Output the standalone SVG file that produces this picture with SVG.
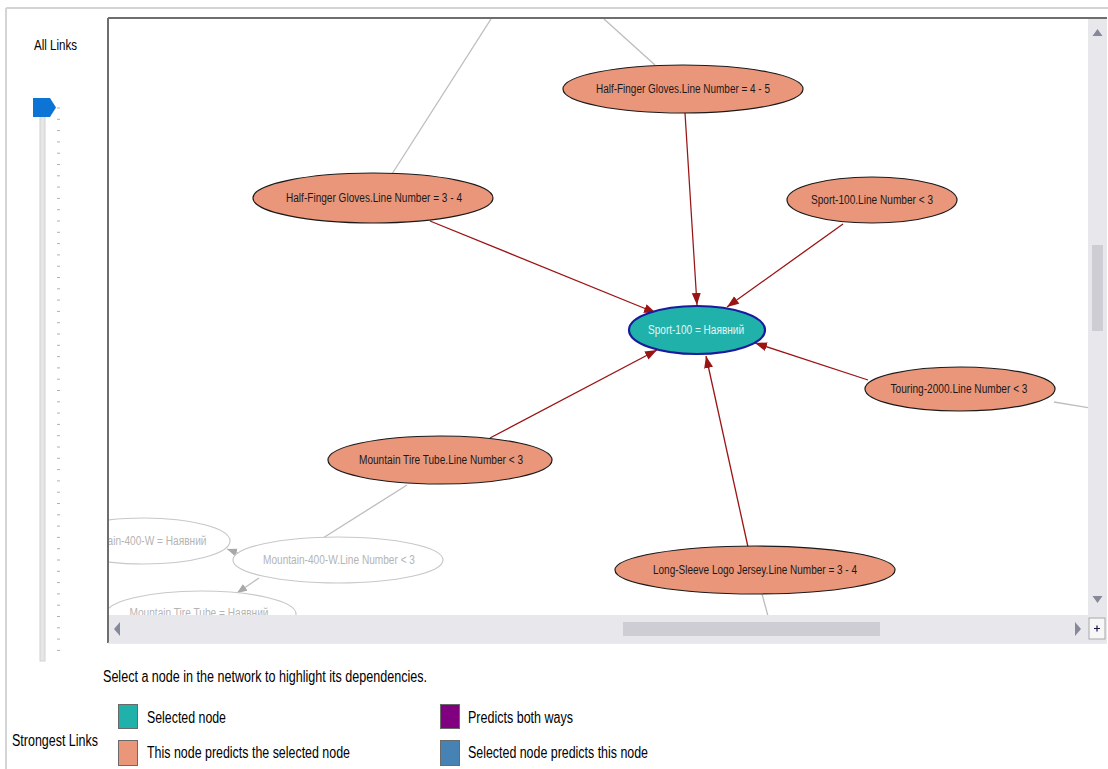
<svg xmlns="http://www.w3.org/2000/svg" width="1108" height="769" viewBox="0 0 1108 769">
<style>
.ui{font-family:"Liberation Sans",Arial,sans-serif;fill:#000}
.nt{font-family:"Liberation Sans",Arial,sans-serif;font-size:12px;fill:#1a1a1a;text-anchor:middle}
.gt{font-family:"Liberation Sans",Arial,sans-serif;font-size:12px;fill:#b4b4b4;text-anchor:middle}
.pn{fill:#e9967a;stroke:#1a1a1a;stroke-width:1.2}
.gn{fill:#fff;stroke:#c8c8c8;stroke-width:1.2}
.re{stroke:#9b1414;stroke-width:1.3;fill:none}
.ge{stroke:#bdbdbd;stroke-width:1.3;fill:none}
.tick{stroke:#b0b0b0;stroke-width:1}
.sbar{fill:#e8e8ec}
.sarrow{fill:#868999}
.leg{stroke:#6a6a6a;stroke-width:1}
</style>
<defs>
<marker id="ar" markerUnits="userSpaceOnUse" markerWidth="13" markerHeight="10" refX="12" refY="4.5" orient="auto">
<path d="M0,0 L12,4.5 L0,9 z" fill="#9b1414"/>
</marker>
<marker id="ag" markerUnits="userSpaceOnUse" markerWidth="11" markerHeight="9" refX="10" refY="4" orient="auto">
<path d="M0,0 L10,4 L0,8 z" fill="#a8a8a8"/>
</marker>
<clipPath id="view"><rect x="109" y="19" width="979" height="596"/></clipPath>
</defs>
<rect x="0" y="0" width="1108" height="769" fill="#fff"/>
<line x1="6" y1="8" x2="1108" y2="8" stroke="#d4d4d4" stroke-width="2"/>
<line x1="6" y1="8" x2="6" y2="769" stroke="#d4d4d4" stroke-width="2"/>

<g id="slider">
<text class="ui" x="34" y="50" font-size="15" textLength="43" lengthAdjust="spacingAndGlyphs">All Links</text>
<rect x="40" y="110" width="5" height="551" fill="#e6e6e6" stroke="#d2d2d2" stroke-width="1"/>
<path class="tick" d="M57,108h3M57,119.3h3M57,130.6h3M57,141.9h3M57,153.2h3M57,164.5h3M57,175.8h3M57,187.1h3M57,198.4h3M57,209.7h3M57,221h3M57,232.3h3M57,243.6h3M57,254.9h3M57,266.2h3M57,277.5h3M57,288.8h3M57,300.1h3M57,311.4h3M57,322.7h3M57,334h3M57,345.3h3M57,356.6h3M57,367.9h3M57,379.2h3M57,390.5h3M57,401.8h3M57,413.1h3M57,424.4h3M57,435.7h3M57,447h3M57,458.3h3M57,469.6h3M57,480.9h3M57,492.2h3M57,503.5h3M57,514.8h3M57,526.1h3M57,537.4h3M57,548.7h3M57,560h3M57,571.3h3M57,582.6h3M57,593.9h3M57,605.2h3M57,616.5h3M57,627.8h3M57,639.1h3M57,650.4h3"/>
<path d="M33,98 L50,98 L56,107.5 L50,117 L33,117 z" fill="#0b74d5"/>
</g>

<rect x="108" y="18" width="999" height="625" fill="#fff" stroke="none"/>
<line x1="108" y1="18" x2="1107" y2="18" stroke="#6e6e6e" stroke-width="2"/>
<line x1="108" y1="18" x2="108" y2="643" stroke="#6e6e6e" stroke-width="2"/>
<line x1="108" y1="643" x2="1107" y2="643" stroke="#d8d8d8" stroke-width="1"/>

<g clip-path="url(#view)">
<g id="connectors">
<line class="ge" x1="491" y1="19" x2="392" y2="174"/>
<line class="ge" x1="604" y1="19" x2="655" y2="65"/>
<line class="ge" x1="1054" y1="402" x2="1090" y2="408"/>
<line class="ge" x1="762" y1="594" x2="768" y2="616"/>
<line class="ge" x1="407" y1="485" x2="323" y2="538"/>
<line class="ge" x1="238" y1="553" x2="227" y2="549" marker-end="url(#ag)"/>
<line class="ge" x1="259" y1="578" x2="237" y2="593" marker-end="url(#ag)"/>
<line class="re" x1="685" y1="113" x2="697" y2="305" marker-end="url(#ar)"/>
<line class="re" x1="430" y1="221" x2="656" y2="313" marker-end="url(#ar)"/>
<line class="re" x1="843" y1="224" x2="727" y2="307" marker-end="url(#ar)"/>
<line class="re" x1="868" y1="380" x2="755" y2="343" marker-end="url(#ar)"/>
<line class="re" x1="490" y1="438" x2="657" y2="350" marker-end="url(#ar)"/>
<line class="re" x1="748" y1="547" x2="706" y2="356" marker-end="url(#ar)"/>
</g>

<g id="n-hfg45"><ellipse class="pn" cx="683" cy="89" rx="120" ry="24"/><text class="nt" x="683" y="93" textLength="174" lengthAdjust="spacingAndGlyphs">Half-Finger Gloves.Line Number = 4 - 5</text></g>
<g id="n-hfg34"><ellipse class="pn" cx="373" cy="198" rx="120" ry="25"/><text class="nt" x="374" y="202" textLength="176" lengthAdjust="spacingAndGlyphs">Half-Finger Gloves.Line Number = 3 - 4</text></g>
<g id="n-sport100line"><ellipse class="pn" cx="872" cy="200" rx="85" ry="23"/><text class="nt" x="872" y="204" textLength="122" lengthAdjust="spacingAndGlyphs">Sport-100.Line Number &lt; 3</text></g>
<g id="n-sport100"><ellipse cx="697" cy="330" rx="68" ry="24" fill="#20b2aa" stroke="#1a1a9c" stroke-width="2.2"/><text class="nt" x="696" y="334" style="fill:#e6f3f3" textLength="96" lengthAdjust="spacingAndGlyphs">Sport-100 = Наявний</text></g>
<g id="n-touring"><ellipse class="pn" cx="960" cy="389" rx="95" ry="22"/><text class="nt" x="959" y="393" textLength="137" lengthAdjust="spacingAndGlyphs">Touring-2000.Line Number &lt; 3</text></g>
<g id="n-mttline"><ellipse class="pn" cx="440" cy="460" rx="112" ry="24"/><text class="nt" x="441" y="464" textLength="164" lengthAdjust="spacingAndGlyphs">Mountain Tire Tube.Line Number &lt; 3</text></g>
<g id="n-jersey"><ellipse class="pn" cx="755" cy="570" rx="140" ry="24"/><text class="nt" x="755" y="574" textLength="204" lengthAdjust="spacingAndGlyphs">Long-Sleeve Logo Jersey.Line Number = 3 - 4</text></g>
<g id="n-m400w"><ellipse class="gn" cx="144" cy="541" rx="86" ry="23"/><text class="gt" x="157" y="545" textLength="99" lengthAdjust="spacingAndGlyphs">ain-400-W = Наявний</text></g>
<g id="n-m400wline"><ellipse class="gn" cx="338" cy="560" rx="105" ry="23"/><text class="gt" x="339" y="564" textLength="152" lengthAdjust="spacingAndGlyphs">Mountain-400-W.Line Number &lt; 3</text></g>
<g id="n-mtt"><ellipse class="gn" cx="201" cy="614" rx="95" ry="23"/><text class="gt" x="199" y="617" textLength="139" lengthAdjust="spacingAndGlyphs">Mountain Tire Tube = Наявний</text></g>
</g>

<g id="vscroll">
<rect class="sbar" x="1088" y="19" width="19" height="596"/>
<path class="sarrow" d="M1092.5,36 L1097.5,29 L1102.5,36 z"/>
<path class="sarrow" d="M1092.5,596 L1097.5,603 L1102.5,596 z"/>
<rect x="1092" y="245" width="11" height="86" fill="#cdcdd3"/>
</g>
<g id="hscroll">
<rect class="sbar" x="109" y="615" width="979" height="28"/>
<path class="sarrow" d="M120,622 L114,629 L120,636 z"/>
<path class="sarrow" d="M1075,622 L1081,629 L1075,636 z"/>
<rect x="623" y="622" width="257" height="14" fill="#cdcdd3"/>
<rect class="sbar" x="1088" y="615" width="19" height="28"/>
<rect x="1089" y="618" width="16" height="21" fill="#f7f7f7" stroke="#a8a8a8" stroke-width="1"/>
<path d="M1094,628.5 L1100,628.5 M1097,625.5 L1097,631.5" stroke="#1a1a4a" stroke-width="1.2"/>
</g>

<g id="legend">
<text class="ui" x="103" y="682" font-size="16" textLength="324" lengthAdjust="spacingAndGlyphs">Select a node in the network to highlight its dependencies.</text>
<text class="ui" x="12" y="746" font-size="16" textLength="86" lengthAdjust="spacingAndGlyphs">Strongest Links</text>
<rect class="leg" x="118.5" y="704.5" width="19" height="24" fill="#20b2aa"/>
<rect class="leg" x="118.5" y="740.5" width="19" height="25" fill="#e9967a"/>
<rect class="leg" x="440.5" y="704.5" width="19" height="24" fill="#800080"/>
<rect class="leg" x="440.5" y="740.5" width="19" height="25" fill="#4682b4"/>
<text class="ui" x="147" y="723" font-size="16" textLength="79" lengthAdjust="spacingAndGlyphs">Selected node</text>
<text class="ui" x="147" y="758" font-size="16" textLength="203" lengthAdjust="spacingAndGlyphs">This node predicts the selected node</text>
<text class="ui" x="468" y="723" font-size="16" textLength="105" lengthAdjust="spacingAndGlyphs">Predicts both ways</text>
<text class="ui" x="468" y="758" font-size="16" textLength="180" lengthAdjust="spacingAndGlyphs">Selected node predicts this node</text>
</g>
</svg>
